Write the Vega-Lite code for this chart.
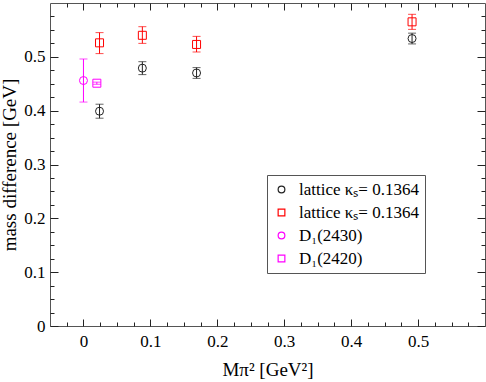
{
  "$schema": "https://vega.github.io/schema/vega-lite/v6.json",
  "autosize": {"type": "none"},
  "padding": {"left": 50, "top": 3, "right": 1, "bottom": 56},
  "width": 435,
  "height": 323,
  "background": "white",
  "config": {
    "view": {"stroke": "#555", "strokeWidth": 1},
    "font": "Liberation Serif",
    "axis": {"grid": false, "domain": false, "tickColor": "#222", "labelColor": "black", "titleColor": "black", "labelFont": "Liberation Serif", "titleFont": "Liberation Serif", "labelFontSize": 17, "titleFontSize": 19, "titleFontWeight": "normal"},
    "legend": {"labelFont": "Liberation Serif", "labelFontSize": 17, "labelColor": "black"}
  },
  "data": {
    "values": [
      {"series": "A", "x": 0.024, "y": 0.399, "lo": 0.386, "hi": 0.412},
      {"series": "A", "x": 0.088, "y": 0.479, "lo": 0.467, "hi": 0.491},
      {"series": "A", "x": 0.169, "y": 0.470, "lo": 0.460, "hi": 0.480},
      {"series": "A", "x": 0.491, "y": 0.534, "lo": 0.524, "hi": 0.544},
      {"series": "B", "x": 0.024, "y": 0.526, "lo": 0.506, "hi": 0.545},
      {"series": "B", "x": 0.088, "y": 0.540, "lo": 0.525, "hi": 0.556},
      {"series": "B", "x": 0.169, "y": 0.523, "lo": 0.509, "hi": 0.538},
      {"series": "B", "x": 0.491, "y": 0.565, "lo": 0.551, "hi": 0.579},
      {"series": "C", "x": 0.0, "y": 0.456, "lo": 0.416, "hi": 0.496},
      {"series": "D", "x": 0.020, "y": 0.451, "lo": 0.449, "hi": 0.453}
    ]
  },
  "resolve": {"axis": {"x": "independent", "y": "independent"}},
  "layer": [
    {
      "transform": [{"filter": "datum.series == 'A'"}],
      "mark": {"type": "errorbar", "ticks": {"size": 8}, "thickness": 1, "color": "#222222"},
      "encoding": {
        "x": {"field": "x", "type": "quantitative", "scale": {"domain": [-0.05, 0.6], "nice": false, "zero": false},
          "axis": {"orient": "bottom", "values": [0, 0.1, 0.2, 0.3, 0.4, 0.5], "labelExpr": "datum.value == 0 ? '0' : format(datum.value, '.1f')", "tickSize": -7, "labelPadding": 14, "title": "Mπ² [GeV²]", "titlePadding": 11}},
        "y": {"field": "lo", "type": "quantitative", "scale": {"domain": [0, 0.6], "nice": false, "zero": false},
          "axis": {"orient": "left", "values": [0, 0.1, 0.2, 0.3, 0.4, 0.5], "labelExpr": "datum.value == 0 ? '0' : format(datum.value, '.1f')", "tickSize": -8, "labelPadding": 13, "title": "mass difference [GeV]", "titleX": -31, "titleFontSize": 19}},
        "y2": {"field": "hi"}
      }
    },
    {
      "transform": [{"filter": "datum.series == 'B'"}],
      "mark": {"type": "errorbar", "ticks": {"size": 8}, "thickness": 1, "color": "#ff0000"},
      "encoding": {
        "x": {"field": "x", "type": "quantitative", "axis": null},
        "y": {"field": "lo", "type": "quantitative", "axis": null},
        "y2": {"field": "hi"}
      }
    },
    {
      "transform": [{"filter": "datum.series == 'C' || datum.series == 'D'"}],
      "mark": {"type": "errorbar", "ticks": {"size": 8}, "thickness": 1, "color": "#ff00ff"},
      "encoding": {
        "x": {"field": "x", "type": "quantitative", "axis": null},
        "y": {"field": "lo", "type": "quantitative", "axis": null},
        "y2": {"field": "hi"}
      }
    },
    {
      "mark": {"type": "point", "filled": false, "strokeWidth": 1, "size": 64, "opacity": 1},
      "encoding": {
        "x": {"field": "x", "type": "quantitative",
          "axis": {"orient": "bottom", "values": [-0.025, 0.025, 0.05, 0.075, 0.125, 0.15, 0.175, 0.225, 0.25, 0.275, 0.325, 0.35, 0.375, 0.425, 0.45, 0.475, 0.525, 0.55, 0.575], "tickSize": -4, "labels": false, "title": null}},
        "y": {"field": "y", "type": "quantitative",
          "axis": {"orient": "left", "values": [0.025, 0.05, 0.075, 0.125, 0.15, 0.175, 0.225, 0.25, 0.275, 0.325, 0.35, 0.375, 0.425, 0.45, 0.475, 0.525, 0.55, 0.575], "tickSize": -4, "labels": false, "title": null}},
        "color": {"field": "series", "type": "nominal", "scale": {"domain": ["A", "B", "C", "D"], "range": ["#222222", "#ff0000", "#ff00ff", "#ff00ff"]},
          "legend": {"orient": "none", "legendX": 217, "legendY": 172, "title": null, "strokeColor": "#555", "fillColor": "white", "padding": 6, "rowPadding": 5, "symbolSize": 45, "symbolStrokeWidth": 1.2, "labelOffset": 9, "cornerRadius": 0,
            "labelExpr": "datum.value == 'A' || datum.value == 'B' ? 'lattice κₛ= 0.1364' : (datum.value == 'C' ? 'D₁(2430)' : 'D₁(2420)')"}},
        "shape": {"field": "series", "type": "nominal", "scale": {"domain": ["A", "B", "C", "D"], "range": ["circle", "square", "circle", "square"]}}
      }
    },
    {
      "mark": {"type": "point", "opacity": 0},
      "encoding": {
        "x": {"field": "x", "type": "quantitative",
          "axis": {"orient": "top", "values": [0, 0.1, 0.2, 0.3, 0.4, 0.5], "tickSize": -7, "labels": false, "title": null}},
        "y": {"field": "y", "type": "quantitative",
          "axis": {"orient": "right", "values": [0, 0.1, 0.2, 0.3, 0.4, 0.5], "tickSize": -8, "labels": false, "title": null}}
      }
    },
    {
      "mark": {"type": "point", "opacity": 0},
      "encoding": {
        "x": {"field": "x", "type": "quantitative",
          "axis": {"orient": "top", "values": [-0.025, 0.025, 0.05, 0.075, 0.125, 0.15, 0.175, 0.225, 0.25, 0.275, 0.325, 0.35, 0.375, 0.425, 0.45, 0.475, 0.525, 0.55, 0.575], "tickSize": -4, "labels": false, "title": null}},
        "y": {"field": "y", "type": "quantitative",
          "axis": {"orient": "right", "values": [0.025, 0.05, 0.075, 0.125, 0.15, 0.175, 0.225, 0.25, 0.275, 0.325, 0.35, 0.375, 0.425, 0.45, 0.475, 0.525, 0.55, 0.575], "tickSize": -4, "labels": false, "title": null}}
      }
    }
  ]
}
